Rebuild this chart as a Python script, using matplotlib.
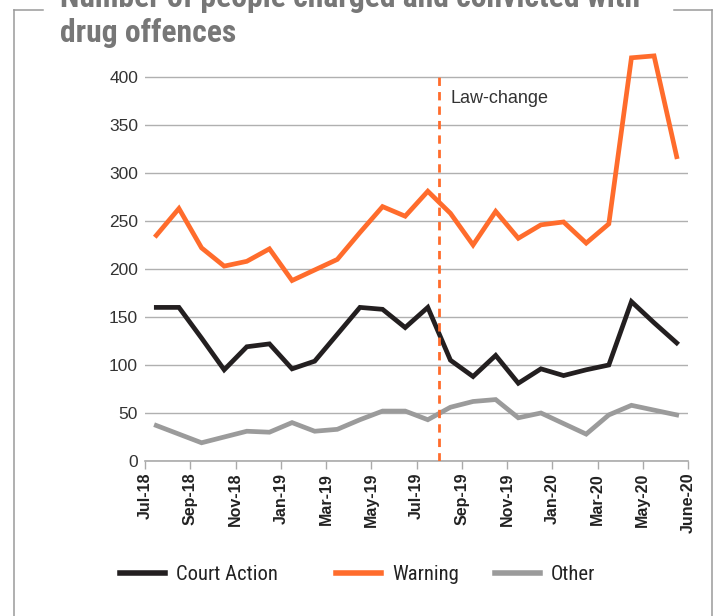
import matplotlib
matplotlib.use("Agg")
import matplotlib.pyplot as plt
from matplotlib.lines import Line2D

months = ["Jul-18", "Aug-18", "Sep-18", "Oct-18", "Nov-18", "Dec-18", "Jan-19", "Feb-19",
          "Mar-19", "Apr-19", "May-19", "Jun-19", "Jul-19", "Aug-19", "Sep-19", "Oct-19",
          "Nov-19", "Dec-19", "Jan-20", "Feb-20", "Mar-20", "Apr-20", "May-20", "Jun-20"]
court_action = [160, 160, 128, 95, 119, 122, 96, 104, 132, 160, 158, 139,
                160, 105, 88, 110, 81, 96, 89, 95, 100, 166, 144, 123]
warning = [235, 263, 222, 203, 208, 221, 188, 199, 210, 238, 265, 255,
           281, 258, 225, 260, 232, 246, 249, 227, 247, 420, 422, 317]
other = [37, 28, 19, 25, 31, 30, 40, 31, 33, 43, 52, 52,
         43, 56, 62, 64, 45, 50, 39, 28, 48, 58, 53, 48]
tick_labels = ["Jul-18", "Sep-18", "Nov-18", "Jan-19", "Mar-19", "May-19", "Jul-19",
               "Sep-19", "Nov-19", "Jan-20", "Mar-20", "May-20", "June-20"]
y_ticks = [0, 50, 100, 150, 200, 250, 300, 350, 400]
law_change_x = 12.5

ORANGE = "#FF6C2C"
BLACK = "#231F20"
GREY = "#9B9B9B"
COND = ["Roboto Condensed", "Liberation Sans Narrow", "DejaVu Sans"]
SANS = ["Liberation Sans", "DejaVu Sans"]

W, H = 716, 616
fig = plt.figure(figsize=(W / 100, H / 100), dpi=100)
renderer = fig.canvas.get_renderer()

def fx(px):
    return px / W

def fy(py):
    return 1 - py / H

def fit_width(t, target_px):
    bb = t.get_window_extent(renderer)
    t.set_fontsize(t.get_fontsize() * target_px / bb.width)
    return t.get_fontsize()

ymax = 430
left, right, bottom = 145, 688, 461
top = bottom - ymax * 0.96
ax = fig.add_axes([fx(left), fy(bottom), fx(right - left), (bottom - top) / H])

x = list(range(len(months)))
lw = 3.4
ax.plot(x, warning, color=ORANGE, lw=lw, solid_joinstyle="miter", zorder=3, clip_on=False)
ax.plot(x, court_action, color=BLACK, lw=lw, solid_joinstyle="miter", zorder=3, clip_on=False)
ax.plot(x, other, color=GREY, lw=lw, solid_joinstyle="miter", zorder=3, clip_on=False)

ax.plot([law_change_x, law_change_x], [0, 400], color=ORANGE, lw=2, dashes=(3, 2.2), zorder=4)
ax.text(law_change_x + 0.5, 378, "Law-change", family=SANS, fontsize=13, color="#333333",
        va="center", ha="left")

ax.set_xlim(-0.5, len(months) - 0.5)
ax.set_ylim(0, ymax)
ax.set_yticks(y_ticks)
ax.set_yticklabels([str(v) for v in y_ticks], family=SANS, fontsize=12.5, color="#333333")
ax.tick_params(axis="y", length=0, pad=5)
xt = [i * 2 - 0.5 for i in range(len(tick_labels))]
ax.set_xticks(xt)
ax.set_xticklabels(tick_labels, rotation=90, family=SANS, fontsize=11.5, fontweight="bold",
                   color="#222222", va="top", ha="center")
ax.tick_params(axis="x", direction="out", length=5.5, width=1, color="#AAAAAA", pad=3)

ax.grid(axis="y", color="#B0B0B0", lw=1)
ax.set_axisbelow(True)
for s in ["left", "right", "top"]:
    ax.spines[s].set_visible(False)
ax.spines["bottom"].set_color("#AAAAAA")
ax.spines["bottom"].set_linewidth(1.2)
ax.patch.set_alpha(0)

# legend: size fitted so "Court Action" spans ~102 px
probe = fig.text(0, 0, "Court Action", family=COND, stretch="condensed", fontsize=16)
leg_fs = fit_width(probe, 102)
probe.remove()
leg_px = leg_fs * 100 / 72
entries = [("Court Action", BLACK, 120), ("Warning", ORANGE, 336), ("Other", GREY, 495)]
for label, col, xpx in entries:
    h = Line2D([], [], color=col, lw=4)
    leg = fig.legend([h], [label], loc="center left", bbox_to_anchor=(fx(xpx), fy(575)),
                     frameon=False, borderpad=0, borderaxespad=0,
                     handlelength=45 / leg_px, handletextpad=11 / leg_px,
                     prop={"family": COND, "stretch": "condensed", "size": leg_fs})
    for t in leg.get_texts():
        t.set_color("#222222")

# frame around chart
fc = "#9A9A9A"
frame_lw = 1.1
fig.add_artist(Line2D([fx(14), fx(14)], [fy(9.5), fy(H + 5)], color=fc, lw=frame_lw))
fig.add_artist(Line2D([fx(14), fx(43)], [fy(9.5), fy(9.5)], color=fc, lw=frame_lw))
fig.add_artist(Line2D([fx(674), fx(712)], [fy(9.5), fy(9.5)], color=fc, lw=frame_lw))
fig.add_artist(Line2D([fx(712), fx(712)], [fy(9.5), fy(H + 5)], color=fc, lw=frame_lw))

# title (first line partly above the top edge, as in the source image)
tc = "#777777"
t2 = fig.text(fx(60), fy(42.5), "drug offences", family=COND, stretch="condensed",
              fontsize=24, fontweight="bold", color=tc, va="baseline", ha="left")
tfs = fit_width(t2, 177)
t1 = fig.text(fx(60), fy(7), "Number of people charged and convicted with", family=COND,
              stretch="condensed", fontsize=tfs, fontweight="bold", color=tc,
              va="baseline", ha="left")

fig.savefig("out.png", dpi=100)
